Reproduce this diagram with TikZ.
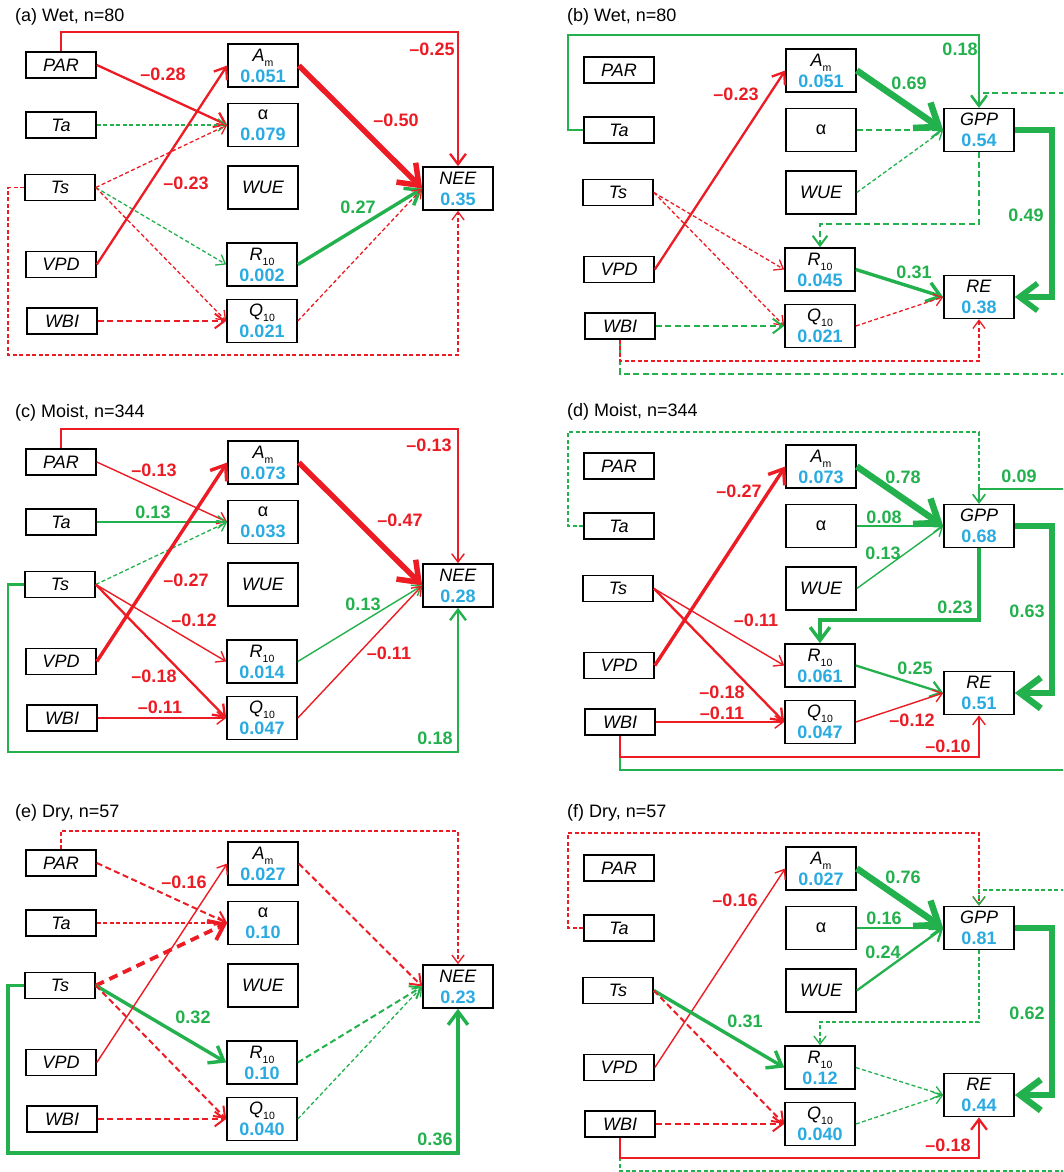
\documentclass[tikz,border=0pt]{standalone}
\usepackage{fontspec}
\setmainfont{Liberation Sans}
\usetikzlibrary{arrows.meta}

\definecolor{negred}{RGB}{237,28,36}
\definecolor{posgreen}{RGB}{35,177,77}
\definecolor{rsqblue}{RGB}{41,171,226}

\newcommand{\lowidx}[1]{\raisebox{-5pt}{\fontsize{10.5}{10.5}\selectfont #1}}
\newcommand{\rsq}[1]{\textcolor{rsqblue}{\bfseries #1}}

% five drivers on the left of every panel
\newcommand{\drivers}{%
  \node[drv] (PAR) at (61,65)    {PAR};
  \node[drv] (Ta)  at (61,125)   {Ta};
  \node[drv] (Ts)  at (60,187.5) {Ts};
  \node[drv] (VPD) at (61,264.5) {VPD};
  \node[drv] (WBI) at (62,321)   {WBI};
}
% five parameters in the middle (Am, alpha, R10, Q10 values)
\newcommand{\params}[4]{%
  \node[prm] (Am)  at (263,65.5)  {\textit{A}\lowidx{m}\\\rsq{#1}};
  \node[prm] (al)  at (263,125)   {#2};
  \node[prm, font=\fontsize{18}{21}\selectfont\itshape] (WUE) at (263,187.5) {WUE};
  \node[prm] (R10) at (262,264.5) {\textit{R}\lowidx{10}\\\rsq{#3}};
  \node[prm] (Q10) at (262,321)   {\textit{Q}\lowidx{10}\\\rsq{#4}};
}

\begin{document}
\begin{tikzpicture}[
    x=1pt, y=-1pt,
    drv/.style  = {draw, line width=1.6pt, minimum width=70pt, minimum height=26pt, inner sep=0pt, font=\fontsize{18}{18}\selectfont\itshape},
    prm/.style  = {draw, line width=1.6pt, minimum width=70pt, minimum height=43pt, inner sep=0pt, align=center, font=\fontsize{18}{21}\selectfont},
    paneltitle/.style = {anchor=west, inner sep=0pt, font=\fontsize{18}{18}\selectfont},
    lbl/.style  = {inner sep=0pt, font=\fontsize{18}{18}\selectfont\bfseries},
    negpath/.style = {color=negred},
    pospath/.style = {color=posgreen},
    arr/.style  = {-{Straight Barb[length=+5pt 2.4, width'=+0pt 1.5]}},
    ns/.style   = {line width=1.3pt, dash pattern=on 4pt off 2.5pt},
    nsm/.style  = {line width=2pt, dash pattern=on 6pt off 3.5pt},
    nsl/.style  = {line width=3.8pt, dash pattern=on 9pt off 6pt},
    w1/.style   = {line width=1.4pt},
    w2/.style   = {line width=2.3pt},
    w3/.style   = {line width=3.4pt},
    w5/.style   = {line width=5.5pt},
    w6/.style   = {line width=6.5pt}
]
    \fill[white] (0,0) rectangle (1063,1172);
    \clip (0,0) rectangle (1063,1172);

    % --- (a) Wet, NEE ---
    \begin{scope}[name prefix=a-]
        \node[paneltitle] (title) at (15,16.5) {(a) Wet, n=80};
        \drivers
        \params{0.051}{α\\\rsq{0.079}}{0.002}{0.021}
        \node[prm] (NEE) at (458,188.5) {\textit{NEE}\\\rsq{0.35}};
        \coordinate (top) at (0,32);
        \coordinate (bot) at (0,355);
        \coordinate (lft) at (8,0);

        \draw[negpath, w2, arr] (PAR.north) |- (top -| NEE.north) -- (NEE.north) node[lbl] at (432,49) {–0.25};
        \draw[negpath, w2, arr] (PAR.east) -- (al.west) node[lbl] at (163,74) {–0.28};
        \draw[pospath, ns, arr] (Ta.east) -- (al.west);
        \draw[negpath, ns, arr] (Ts.east) -- (al.west);
        \draw[pospath, ns, arr] (Ts.east) -- (R10.west);
        \draw[negpath, ns, arr] (Ts.east) -- (Q10.west);
        \draw[negpath, ns, arr] (Ts.west) -| (lft |- bot) -| (NEE.south);
        \draw[negpath, w2, arr] (VPD.east) -- (Am.west) node[lbl] at (186,183) {–0.23};
        \draw[negpath, nsm, arr] (WBI.east) -- (Q10.west);
        \draw[negpath, w5, arr] (Am.east) -- (NEE.west) node[lbl] at (396,120) {–0.50};
        \draw[pospath, w3, arr] (R10.east) -- (NEE.west) node[lbl] at (358,207) {0.27};
        \draw[negpath, ns, arr] (Q10.east) -- (NEE.west);
    \end{scope}

    % --- (b) Wet, GPP and RE ---
    \begin{scope}[shift={(558,5)}, name prefix=b-]
        \node[paneltitle] (title) at (9,11.5) {(b) Wet, n=80};
        \drivers
        \params{0.051}{α}{0.045}{0.021}
        \node[prm] (GPP) at (421,125)   {\textit{GPP}\\\rsq{0.54}};
        \node[prm] (RE)  at (421,292)   {\textit{RE}\\\rsq{0.38}};
        \coordinate (top)  at (0,30);
        \coordinate (top2) at (0,88);
        \coordinate (mid)  at (0,219);
        \coordinate (bot)  at (0,356);
        \coordinate (bot2) at (0,369);
        \coordinate (lft)  at (10,0);
        \coordinate (rgt)  at (494,0);
        \coordinate (far)  at (540,0);

        \draw[pospath, w2, arr] (Ta.west) -| (lft |- top) -| (GPP.north) node[lbl] at (402,44) {0.18};
        \draw[pospath, nsm, arr] (WBI.south) |- (far |- bot2) |- (GPP.north |- top2) -- (GPP.north);
        \draw[negpath, ns, arr] (WBI.south) |- (RE.south |- bot) -- (RE.south);
        \draw[pospath, w5, arr] (GPP.east) -| (rgt |- RE.east) -- (RE.east) node[lbl] at (468,210) {0.49};
        \draw[pospath, nsm, arr] (GPP.south) |- (R10.north |- mid) -- (R10.north);
        \draw[pospath, w6, arr] (Am.east) -- (GPP.west) node[lbl] at (351,78) {0.69};
        \draw[pospath, nsm, arr] (al.east) -- (GPP.west);
        \draw[pospath, ns, arr] (WUE.east) -- (GPP.west);
        \draw[negpath, w2, arr] (VPD.east) -- (Am.west) node[lbl] at (178,89) {–0.23};
        \draw[negpath, ns, arr] (Ts.east) -- (R10.west);
        \draw[negpath, ns, arr] (Ts.east) -- (Q10.west);
        \draw[pospath, nsm, arr] (WBI.east) -- (Q10.west);
        \draw[pospath, w3, arr] (R10.east) -- (RE.west) node[lbl] at (356,267) {0.31};
        \draw[negpath, ns, arr] (Q10.east) -- (RE.west);
    \end{scope}

    % --- (c) Moist, NEE ---
    \begin{scope}[shift={(0,397)}, name prefix=c-]
        \node[paneltitle] (title) at (15,15.5) {(c) Moist, n=344};
        \drivers
        \params{0.073}{α\\\rsq{0.033}}{0.014}{0.047}
        \node[prm] (NEE) at (458,188.5) {\textit{NEE}\\\rsq{0.28}};
        \coordinate (top) at (0,32);
        \coordinate (bot) at (0,355);
        \coordinate (lft) at (8,0);

        \draw[negpath, w1, arr] (PAR.north) |- (top -| NEE.north) -- (NEE.north) node[lbl] at (429,48) {–0.13};
        \draw[negpath, w1, arr] (PAR.east) -- (al.west) node[lbl] at (154,73) {–0.13};
        \draw[pospath, w1, arr] (Ta.east) -- (al.west) node[lbl] at (153,115) {0.13};
        \draw[pospath, ns, arr] (Ts.east) -- (al.west);
        \draw[negpath, w3, arr] (VPD.east) -- (Am.west) node[lbl] at (186,183) {–0.27};
        \draw[negpath, w1, arr] (Ts.east) -- (R10.west) node[lbl] at (194,223) {–0.12};
        \draw[negpath, w2, arr] (Ts.east) -- (Q10.west) node[lbl] at (154,279) {–0.18};
        \draw[negpath, w1, arr] (WBI.east) -- (Q10.west) node[lbl] at (160,310) {–0.11};
        \draw[pospath, w2, arr] (Ts.west) -| (lft |- bot) -| (NEE.south) node[lbl] at (435,341) {0.18};
        \draw[negpath, w5, arr] (Am.east) -- (NEE.west) node[lbl] at (400,123) {–0.47};
        \draw[pospath, w1, arr] (R10.east) -- (NEE.west) node[lbl] at (363,207) {0.13};
        \draw[negpath, w1, arr] (Q10.east) -- (NEE.west) node[lbl] at (389,256) {–0.11};
    \end{scope}

    % --- (d) Moist, GPP and RE ---
    \begin{scope}[shift={(558,401)}, name prefix=d-]
        \node[paneltitle] (title) at (9,11) {(d) Moist, n=344};
        \drivers
        \params{0.073}{α}{0.061}{0.047}
        \node[prm] (GPP) at (421,125)   {\textit{GPP}\\\rsq{0.68}};
        \node[prm] (RE)  at (421,292)   {\textit{RE}\\\rsq{0.51}};
        \coordinate (top)  at (0,31);
        \coordinate (top2) at (0,88);
        \coordinate (mid)  at (0,219);
        \coordinate (bot)  at (0,356);
        \coordinate (bot2) at (0,369);
        \coordinate (lft)  at (10,0);
        \coordinate (rgt)  at (494,0);
        \coordinate (far)  at (540,0);

        \draw[pospath, ns, arr] (Ta.west) -| (lft |- top) -| (GPP.north);
        \draw[pospath, w1, arr] (WBI.south) |- (far |- bot2) |- (GPP.north |- top2) -- (GPP.north) node[lbl] at (461,75) {0.09};
        \draw[negpath, w1, arr] (WBI.south) |- (RE.south |- bot) -- (RE.south) node[lbl] at (390,345) {–0.10};
        \draw[pospath, w6, arr] (GPP.east) -| (rgt |- RE.east) -- (RE.east) node[lbl] at (469,210) {0.63};
        \draw[pospath, w3, arr] (GPP.south) |- (R10.north |- mid) -- (R10.north) node[lbl] at (397,206) {0.23};
        \draw[pospath, w6, arr] (Am.east) -- (GPP.west) node[lbl] at (345,76) {0.78};
        \draw[pospath, w1, arr] (al.east) -- (GPP.west) node[lbl] at (326,116) {0.08};
        \draw[pospath, w1, arr] (WUE.east) -- (GPP.west) node[lbl] at (325,152) {0.13};
        \draw[negpath, w3, arr] (VPD.east) -- (Am.west) node[lbl] at (181,90) {–0.27};
        \draw[negpath, w1, arr] (Ts.east) -- (R10.west) node[lbl] at (198,219) {–0.11};
        \draw[negpath, w2, arr] (Ts.east) -- (Q10.west) node[lbl] at (164,291) {–0.18};
        \draw[negpath, w1, arr] (WBI.east) -- (Q10.west) node[lbl] at (164,312) {–0.11};
        \draw[pospath, w2, arr] (R10.east) -- (RE.west) node[lbl] at (357,267) {0.25};
        \draw[negpath, w1, arr] (Q10.east) -- (RE.west) node[lbl] at (354,319) {–0.12};
    \end{scope}

    % --- (e) Dry, NEE ---
    \begin{scope}[shift={(0,798)}, name prefix=e-]
        \node[paneltitle] (title) at (15,15) {(e) Dry, n=57};
        \drivers
        \params{0.027}{α\\\rsq{0.10}}{0.10}{0.040}
        \node[prm] (NEE) at (458,188.5) {\textit{NEE}\\\rsq{0.23}};
        \coordinate (top) at (0,33);
        \coordinate (bot) at (0,355);
        \coordinate (lft) at (8,0);

        \draw[negpath, ns, arr] (PAR.north) |- (top -| NEE.north) -- (NEE.north);
        \draw[negpath, nsm, arr] (PAR.east) -- (al.west);
        \draw[negpath, ns, arr] (Ta.east) -- (al.west);
        \draw[negpath, nsl, arr] (Ts.east) -- (al.west);
        \draw[pospath, w3, arr] (Ts.east) -- (R10.west) node[lbl] at (193,219) {0.32};
        \draw[negpath, nsm, arr] (Ts.east) -- (Q10.west);
        \draw[pospath, w3, arr] (Ts.west) -| (lft |- bot) -| (NEE.south) node[lbl] at (435,341) {0.36};
        \draw[negpath, w1, arr] (VPD.east) -- (Am.west) node[lbl] at (184,84) {–0.16};
        \draw[negpath, nsm, arr] (WBI.east) -- (Q10.west);
        \draw[negpath, nsm, arr] (Am.east) -- (NEE.west);
        \draw[pospath, nsm, arr] (R10.east) -- (NEE.west);
        \draw[pospath, ns, arr] (Q10.east) -- (NEE.west);
    \end{scope}

    % --- (f) Dry, GPP and RE ---
    \begin{scope}[shift={(558,803)}, name prefix=f-]
        \node[paneltitle] (title) at (9,10) {(f) Dry, n=57};
        \drivers
        \params{0.027}{α}{0.12}{0.040}
        \node[prm] (GPP) at (421,125)   {\textit{GPP}\\\rsq{0.81}};
        \node[prm] (RE)  at (421,292)   {\textit{RE}\\\rsq{0.44}};
        \coordinate (top)  at (0,30);
        \coordinate (top2) at (0,87);
        \coordinate (mid)  at (0,219);
        \coordinate (bot)  at (0,355);
        \coordinate (bot2) at (0,368);
        \coordinate (lft)  at (10,0);
        \coordinate (rgt)  at (494,0);
        \coordinate (far)  at (540,0);

        \draw[negpath, ns, arr] (Ta.west) -| (lft |- top) -| (GPP.north);
        \draw[pospath, ns, arr] (WBI.south) |- (far |- bot2) |- (GPP.north |- top2) -- (GPP.north);
        \draw[negpath, w2, arr] (WBI.south) |- (RE.south |- bot) -- (RE.south) node[lbl] at (390,342) {–0.18};
        \draw[pospath, w6, arr] (GPP.east) -| (rgt |- RE.east) -- (RE.east) node[lbl] at (469,210) {0.62};
        \draw[pospath, ns, arr] (GPP.south) |- (R10.north |- mid) -- (R10.north);
        \draw[pospath, w6, arr] (Am.east) -- (GPP.west) node[lbl] at (345,74) {0.76};
        \draw[pospath, w2, arr] (al.east) -- (GPP.west) node[lbl] at (326,115) {0.16};
        \draw[pospath, w2, arr] (WUE.east) -- (GPP.west) node[lbl] at (325,149) {0.24};
        \draw[negpath, w1, arr] (VPD.east) -- (Am.west) node[lbl] at (177,97) {–0.16};
        \draw[pospath, w3, arr] (Ts.east) -- (R10.west) node[lbl] at (187,218) {0.31};
        \draw[negpath, nsm, arr] (Ts.east) -- (Q10.west);
        \draw[negpath, nsm, arr] (WBI.east) -- (Q10.west);
        \draw[pospath, ns, arr] (R10.east) -- (RE.west);
        \draw[pospath, ns, arr] (Q10.east) -- (RE.west);
    \end{scope}

\end{tikzpicture}
\end{document}
